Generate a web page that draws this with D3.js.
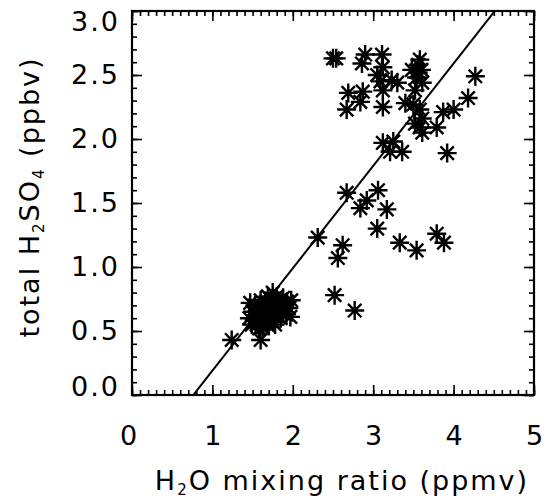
<!DOCTYPE html>
<html lang="en">
<head>
  <meta charset="UTF-8">
  <title>H2SO4 vs H2O</title>
  <script type="text/javascript" src="https://d3js.org/d3.v7.min.js"></script>
  <style>
    body { margin: 0; background: #fff; }
    text { font-family: "DejaVu Sans", sans-serif; fill: #000; letter-spacing: 2px; }
    .tick line { stroke: #000; stroke-width: 1.6; }
    .domain { display: none; }
  </style>
</head>
<body>
  <svg width="546" height="498"></svg>
<script type="text/javascript">
// H2O mixing ratio (ppmv)
var h2o = [
  // low cluster
  1.24, 1.60, 1.47, 1.50, 1.52, 1.53, 1.55, 1.55, 1.57, 1.58, 1.60, 1.60, 1.61, 1.62, 1.63,
  1.64, 1.65, 1.66, 1.67, 1.68, 1.70, 1.70, 1.72, 1.73, 1.74, 1.75, 1.76, 1.78, 1.80, 1.80,
  1.82, 1.84, 1.85, 1.87, 1.88, 1.90, 1.92, 1.93, 1.95, 1.97, 1.98, 1.46, 1.49, 1.58, 1.69, 1.78,
  // middle
  2.31, 2.62, 2.56, 2.52, 2.77, 3.05, 3.33, 3.54, 3.79, 3.88,
  2.67, 2.84, 2.92, 3.06, 3.17,
  3.12, 3.25, 3.21, 3.36, 3.92,
  // upper
  2.50, 2.54, 2.90, 2.86, 3.11, 3.12, 3.05, 3.09, 3.23, 3.30, 3.12, 2.69, 2.87, 2.84, 2.67, 3.12,
  3.56, 3.56, 3.54, 3.61, 3.52, 3.60, 3.48, 3.58,
  3.40, 3.50, 3.58, 3.61, 3.58, 3.61, 3.52,
  3.79, 3.87, 4.00, 4.18, 4.27
];
// total H2SO4 (ppbv)
var h2so4 = [
  0.43, 0.43, 0.72, 0.65, 0.58, 0.70, 0.62, 0.55, 0.67, 0.59, 0.74, 0.56, 0.63, 0.69, 0.53,
  0.60, 0.66, 0.72, 0.56, 0.62, 0.68, 0.54, 0.60, 0.75, 0.65, 0.80, 0.57, 0.70, 0.63, 0.77,
  0.68, 0.73, 0.60, 0.66, 0.76, 0.70, 0.63, 0.73, 0.68, 0.61, 0.74, 0.60, 0.55, 0.52, 0.77, 0.55,
  1.23, 1.17, 1.07, 0.78, 0.66, 1.30, 1.19, 1.13, 1.26, 1.19,
  1.58, 1.46, 1.52, 1.60, 1.45,
  1.97, 1.98, 1.90, 1.90, 1.89,
  2.63, 2.63, 2.66, 2.59, 2.66, 2.56, 2.50, 2.45, 2.46, 2.44, 2.38, 2.36, 2.37, 2.29, 2.23, 2.25,
  2.58, 2.52, 2.48, 2.44, 2.38, 2.54, 2.54, 2.62,
  2.28, 2.27, 2.23, 2.16, 2.09, 2.05, 2.12,
  2.09, 2.21, 2.23, 2.32, 2.49
];

var xTicks = [0, 1, 2, 3, 4, 5];
var yTicks = [0.0, 0.5, 1.0, 1.5, 2.0, 2.5, 3.0];
// fitted line: y = slope * x + intercept
var fitSlope = 0.80;
var fitIntercept = -0.61;

var svg = d3.select("svg");
var pLeft = 132, pRight = 534, pTop = 11, pBottom = 395;

var x = d3.scaleLinear().domain([0, 5]).range([pLeft, pRight]);
var y = d3.scaleLinear().domain([0, 3]).range([pBottom, pTop]);

var fs = 27;

// minor ticks every 0.1
var xMinor = d3.range(0, 5.001, 0.1), yMinor = d3.range(0, 3.001, 0.1);

svg.append("g").attr("transform", "translate(0," + pBottom + ")")
  .call(d3.axisBottom(x).tickValues(xMinor).tickSize(-5).tickSizeOuter(0).tickFormat(""));
svg.append("g").attr("transform", "translate(0," + pTop + ")")
  .call(d3.axisTop(x).tickValues(xMinor).tickSize(-5).tickSizeOuter(0).tickFormat(""));
svg.append("g").attr("transform", "translate(" + pLeft + ",0)")
  .call(d3.axisLeft(y).tickValues(yMinor).tickSize(-5).tickSizeOuter(0).tickFormat(""));
svg.append("g").attr("transform", "translate(" + pRight + ",0)")
  .call(d3.axisRight(y).tickValues(yMinor).tickSize(-5).tickSizeOuter(0).tickFormat(""));

// major ticks + labels
var xAx = svg.append("g").attr("transform", "translate(0," + pBottom + ")")
  .call(d3.axisBottom(x).tickValues(xTicks).tickSize(-10).tickSizeOuter(0).tickPadding(31).tickFormat(d3.format("d")));
xAx.selectAll("text").style("font-size", fs + "px").style("font-family", "DejaVu Sans")
  .attr("x", function(d) { return d === 0 ? -3 : 1; });

svg.append("g").attr("transform", "translate(0," + pTop + ")")
  .call(d3.axisTop(x).tickValues(xTicks).tickSize(-10).tickSizeOuter(0).tickFormat(""));

var yAx = svg.append("g").attr("transform", "translate(" + pLeft + ",0)")
  .call(d3.axisLeft(y).tickValues(yTicks).tickSize(-10).tickSizeOuter(0).tickPadding(12).tickFormat(d3.format(".1f")));
yAx.selectAll("text").style("font-size", fs + "px").style("font-family", "DejaVu Sans");
// end labels sit inside the frame height
yAx.selectAll(".tick text").attr("y", function(d) {
  if (d === 3) return 11;
  if (d === 0) return -8;
  return 0;
});

svg.append("g").attr("transform", "translate(" + pRight + ",0)")
  .call(d3.axisRight(y).tickValues(yTicks).tickSize(-10).tickSizeOuter(0).tickFormat(""));

// frame
svg.append("rect")
  .attr("x", pLeft).attr("y", pTop)
  .attr("width", pRight - pLeft).attr("height", pBottom - pTop)
  .attr("fill", "none").attr("stroke", "#000").attr("stroke-width", 2.2);

// clip for fit line
svg.append("clipPath").attr("id", "plotclip")
  .append("rect").attr("x", pLeft).attr("y", pTop)
  .attr("width", pRight - pLeft).attr("height", pBottom - pTop);

var fitX = [0, 5];
svg.append("path")
  .datum(fitX)
  .attr("clip-path", "url(#plotclip)")
  .attr("fill", "none").attr("stroke", "#000").attr("stroke-width", 2)
  .attr("d", d3.line()
    .x(function(d) { return x(d); })
    .y(function(d) { return y(fitSlope * d + fitIntercept); }));

// asterisk markers
var r = 9.5;
var star = "";
[0, 45, 90, 135].forEach(function(a) {
  var t = a * Math.PI / 180, dx = r * Math.cos(t), dy = r * Math.sin(t);
  star += "M" + (-dx) + "," + (-dy) + "L" + dx + "," + dy;
});

svg.append("g").selectAll("path")
  .data(d3.range(h2o.length))
  .enter().append("path")
  .attr("d", star)
  .attr("transform", function(i) { return "translate(" + x(h2o[i]) + "," + y(h2so4[i]) + ")"; })
  .attr("fill", "none").attr("stroke", "#000").attr("stroke-width", 2.4);

// axis titles
var xt = svg.append("text")
  .attr("x", (pLeft + pRight) / 2 + 9).attr("y", 490)
  .attr("text-anchor", "middle").style("font-size", fs + "px");
xt.append("tspan").text("H");
xt.append("tspan").text("2").style("font-size", "15px").attr("dy", 5);
xt.append("tspan").text("O mixing ratio (ppmv)").attr("dy", -5);

var yt = svg.append("text")
  .attr("transform", "translate(39," + ((pTop + pBottom) / 2 - 6) + ") rotate(-90)")
  .attr("text-anchor", "middle").style("font-size", fs + "px");
yt.append("tspan").text("total H");
yt.append("tspan").text("2").style("font-size", "15px").attr("dy", 5);
yt.append("tspan").text("SO").attr("dy", -5);
yt.append("tspan").text("4").style("font-size", "15px").attr("dy", 5);
yt.append("tspan").text(" (ppbv)").attr("dy", -5);
</script>
</body>
</html>
